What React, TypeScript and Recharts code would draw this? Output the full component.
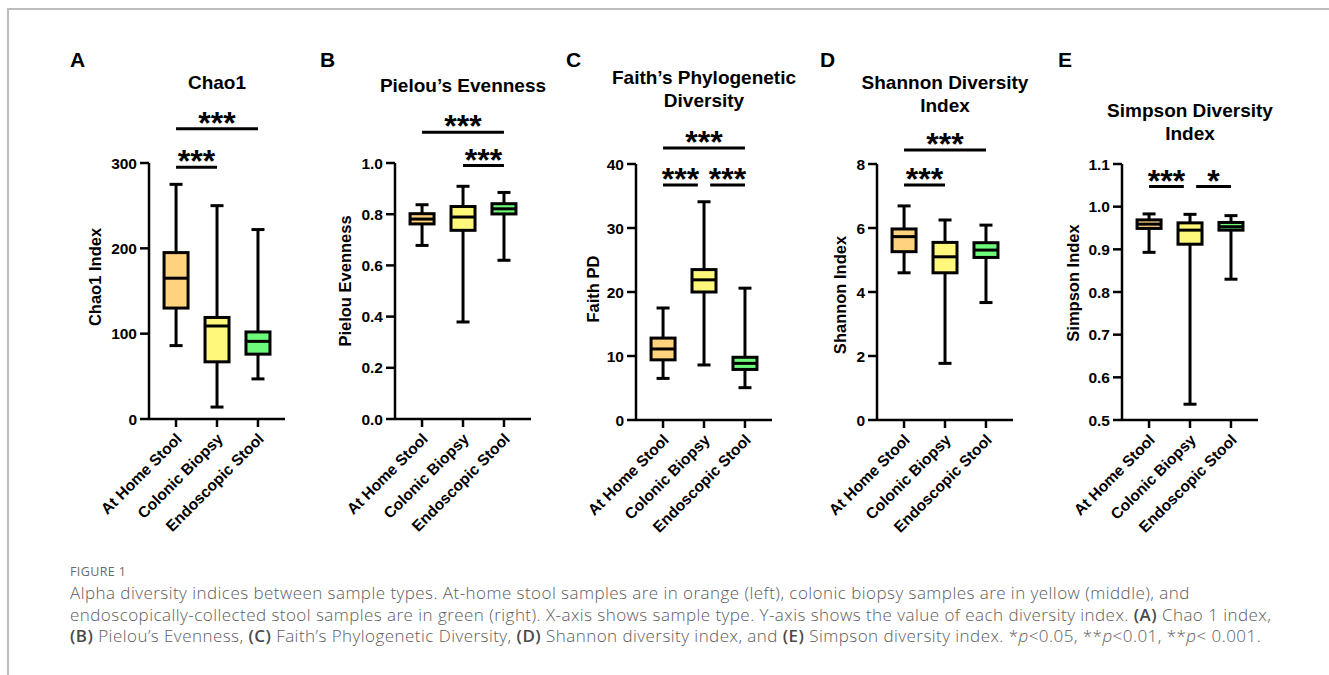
import React from 'react'
import { ComposedChart, Bar, XAxis, YAxis, ReferenceLine } from 'recharts'

const FONT = '"Liberation Sans", Arial, Helvetica, sans-serif'

const categories = ['At Home Stool', 'Colonic Biopsy', 'Endoscopic Stool']
const groupColors = ['#FFD27D', '#FFF87A', '#6EFB7C']

// box stats: min, q1, median, q3, max
const chao1 = [
  { min: 86, q1: 130, median: 165, q3: 195, max: 275 },
  { min: 14, q1: 67, median: 109, q3: 119, max: 250 },
  { min: 47, q1: 76, median: 91, q3: 102, max: 222 },
]
const pielou = [
  { min: 0.678, q1: 0.762, median: 0.781, q3: 0.802, max: 0.837 },
  { min: 0.379, q1: 0.737, median: 0.789, q3: 0.83, max: 0.909 },
  { min: 0.62, q1: 0.801, median: 0.821, q3: 0.841, max: 0.885 },
]
const faith = [
  { min: 6.5, q1: 9.4, median: 11.1, q3: 12.8, max: 17.5 },
  { min: 8.6, q1: 20.0, median: 21.9, q3: 23.5, max: 34.1 },
  { min: 5.05, q1: 7.9, median: 8.85, q3: 9.8, max: 20.6 },
]
const shannon = [
  { min: 4.6, q1: 5.26, median: 5.73, q3: 5.97, max: 6.69 },
  { min: 1.77, q1: 4.6, median: 5.1, q3: 5.55, max: 6.25 },
  { min: 3.67, q1: 5.08, median: 5.31, q3: 5.54, max: 6.09 },
]
const simpson = [
  { min: 0.893, q1: 0.949, median: 0.959, q3: 0.969, max: 0.983 },
  { min: 0.537, q1: 0.912, median: 0.945, q3: 0.962, max: 0.982 },
  { min: 0.83, q1: 0.945, median: 0.953, q3: 0.963, max: 0.979 },
]

const chao1Ticks = [0, 100, 200, 300]
const pielouTicks = [0, 0.2, 0.4, 0.6, 0.8, 1.0]
const faithTicks = [0, 10, 20, 30, 40]
const shannonTicks = [0, 2, 4, 6, 8]
const simpsonTicks = [0.5, 0.6, 0.7, 0.8, 0.9, 1.0, 1.1]

// significance brackets: groups a..b (1-based), height in data units
const chao1Sig = [
  { a: 1, b: 3, y: 340, label: '***' },
  { a: 1, b: 2, y: 295, label: '***' },
]
const pielouSig = [
  { a: 1, b: 3, y: 1.12, label: '***' },
  { a: 2, b: 3, y: 0.99, label: '***' },
]
const faithSig = [
  { a: 1, b: 3, y: 42.5, label: '***' },
  { a: 1, b: 2, y: 36.7, label: '***' },
  { a: 2, b: 3, y: 36.7, label: '***' },
]
const shannonSig = [
  { a: 1, b: 3, y: 8.44, label: '***' },
  { a: 1, b: 2, y: 7.34, label: '***' },
]
const simpsonSig = [
  { a: 1, b: 2, y: 1.047, label: '***' },
  { a: 2, b: 3, y: 1.047, label: '*' },
]

const panels = [
  { letter: 'A', title: ['Chao1'], yLabel: 'Chao1 Index', stats: chao1, ticks: chao1Ticks, sig: chao1Sig, dec: 0, axisX: 149, plotTop: 163, letterX: 70, titleTop: 71, labelDist: 54 },
  { letter: 'B', title: ['Pielou\u2019s Evenness'], yLabel: 'Pielou Evenness', stats: pielou, ticks: pielouTicks, sig: pielouSig, dec: 1, axisX: 395, plotTop: 163, letterX: 320, titleTop: 74, labelDist: 50 },
  { letter: 'C', title: ['Faith\u2019s Phylogenetic', 'Diversity'], yLabel: 'Faith PD', stats: faith, ticks: faithTicks, sig: faithSig, dec: 0, axisX: 636, plotTop: 164, letterX: 566, titleTop: 66, labelDist: 43 },
  { letter: 'D', title: ['Shannon Diversity', 'Index'], yLabel: 'Shannon Index', stats: shannon, ticks: shannonTicks, sig: shannonSig, dec: 0, axisX: 877, plotTop: 164, letterX: 820, titleTop: 71, labelDist: 37 },
  { letter: 'E', title: ['Simpson Diversity', 'Index'], yLabel: 'Simpson Index', stats: simpson, ticks: simpsonTicks, sig: simpsonSig, dec: 1, axisX: 1122, plotTop: 164, letterX: 1058, titleTop: 99, labelDist: 49 },
]

const Y_W = 80
const PLOT_W = 136
const PLOT_H = 256
const TOP = 110
const X_H = 110
const RIGHT = 14
const CHART_W = Y_W + PLOT_W + RIGHT
const CHART_H = TOP + PLOT_H + X_H + 5

const BoxShape = (props: any) => {
  const { x, y, width, height, payload } = props
  const { min, q1, median, q3, max, color } = payload
  const py = (v: number) => y + ((max - v) / (max - min)) * height
  const cx = x + width / 2
  const bw = 24
  const cap = 13
  const s = { stroke: '#000', strokeWidth: 3 }
  return (
    <g>
      <line x1={cx} x2={cx} y1={py(max)} y2={py(min)} {...s} />
      <line x1={cx - cap / 2} x2={cx + cap / 2} y1={py(max)} y2={py(max)} {...s} />
      <line x1={cx - cap / 2} x2={cx + cap / 2} y1={py(min)} y2={py(min)} {...s} />
      <rect x={cx - bw / 2} y={py(q3)} width={bw} height={py(q1) - py(q3)} fill={color} {...s} />
      <line x1={cx - bw / 2} x2={cx + bw / 2} y1={py(median)} y2={py(median)} {...s} />
    </g>
  )
}

const XTick = (props: any) => {
  const { payload } = props
  const x = props.x + 3
  const y = props.y + 5
  const label = categories[Math.round(payload.value) - 1]
  return (
    <text x={x} y={y} transform={`rotate(-45 ${x} ${y})`} textAnchor="end" dy="0.35em"
      fontSize={15.5} fontWeight={700} fill="#000" fontFamily={FONT}>
      {label}
    </text>
  )
}

function Panel({ p }: { p: (typeof panels)[number] }) {
  const data = p.stats.map((s, i) => ({ x: i + 1, whisker: [s.min, s.max], ...s, color: groupColors[i] }))
  const lo = p.ticks[0]
  const hi = p.ticks[p.ticks.length - 1]
  const labelX = Y_W - p.labelDist
  const labelY = TOP + PLOT_H / 2
  const shared = (g: number, y: number, self: any) =>
    p.sig.some((o) => o !== self && o.y === y && (o.a === g || o.b === g))
  return (
    <>
      <div style={{ position: 'absolute', left: p.letterX, top: 48, fontFamily: FONT, fontWeight: 700, fontSize: 21, lineHeight: '23px' }}>
        {p.letter}
      </div>
      <div style={{ position: 'absolute', left: p.axisX + 68 - 150, width: 300, top: p.titleTop, textAlign: 'center', fontFamily: FONT, fontWeight: 700, fontSize: 19, lineHeight: '23px' }}>
        {p.title.map((t) => <div key={t}>{t}</div>)}
      </div>
      <div style={{ position: 'absolute', left: p.axisX - Y_W, top: p.plotTop - TOP }}>
        <ComposedChart width={CHART_W} height={CHART_H} data={data} margin={{ top: TOP, right: RIGHT, bottom: 5, left: 0 }}>
          <XAxis type="number" dataKey="x" domain={[0.34, 3.66]} ticks={[1, 2, 3]} height={X_H}
            tick={<XTick />} tickSize={8} tickMargin={4}
            axisLine={{ stroke: '#000', strokeWidth: 2.5 }} tickLine={{ stroke: '#000', strokeWidth: 2.5 }} />
          <YAxis type="number" domain={[lo, hi]} ticks={p.ticks} width={Y_W} interval={0}
            tickFormatter={(v: number) => v.toFixed(p.dec)} tickSize={9} tickMargin={3}
            tick={{ fill: '#000', fontSize: 15.5, fontWeight: 700, fontFamily: FONT }}
            axisLine={{ stroke: '#000', strokeWidth: 2.5 }} tickLine={{ stroke: '#000', strokeWidth: 2.5 }}
            label={
              <text x={labelX} y={labelY} transform={`rotate(-90 ${labelX} ${labelY})`} textAnchor="middle"
                dominantBaseline="central" fontSize={16.5} fontWeight={700} fill="#000" fontFamily={FONT}>
                {p.yLabel}
              </text>
            } />
          <Bar dataKey="whisker" barSize={27} isAnimationActive={false} shape={(bp: any) => <BoxShape {...bp} />} />
          {p.sig.map((s, i) => (
            <ReferenceLine key={i} ifOverflow="visible" stroke="#000" strokeWidth={3}
              segment={[
                { x: s.a + (shared(s.a, s.y, s) ? 0.15 : 0), y: s.y },
                { x: s.b - (shared(s.b, s.y, s) ? 0.15 : 0), y: s.y },
              ]}
              label={{ value: s.label, position: 'top', offset: -5, fill: '#000', fontSize: 32, fontWeight: 700, fontFamily: FONT }} />
          ))}
        </ComposedChart>
      </div>
    </>
  )
}

const capStyle: React.CSSProperties = { whiteSpace: 'nowrap' }
const bold: React.CSSProperties = { fontWeight: 600, color: '#4a4a4a' }

export default function App() {
  return (
    <div style={{ position: 'absolute', left: 0, top: 0, width: 1329, height: 675, background: '#fff', overflow: 'hidden' }}>
      <div style={{ position: 'absolute', left: 7, top: 8, width: 1322, height: 665, borderTop: '2px solid #bdbdbd', borderLeft: '2px solid #bdbdbd' }} />
      {panels.map((p) => <Panel key={p.letter} p={p} />)}
      <div style={{ position: 'absolute', left: 70, top: 564, fontFamily: '"Open Sans", Lato, sans-serif', color: '#5c5c5c' }}>
        <div style={{ fontSize: 12.5, color: '#6a6a6a', letterSpacing: 0.4, lineHeight: '16px' }}>FIGURE 1</div>
        <div style={{ fontSize: 17, lineHeight: '21.5px', marginTop: 2, letterSpacing: 0.45, fontWeight: 300 }}>
          <div style={capStyle}>Alpha diversity indices between sample types. At-home stool samples are in orange (left), colonic biopsy samples are in yellow (middle), and</div>
          <div style={capStyle}>endoscopically-collected stool samples are in green (right). X-axis shows sample type. Y-axis shows the value of each diversity index. <b style={bold}>(A)</b> Chao 1 index,</div>
          <div style={capStyle}><b style={bold}>(B)</b> Pielou’s Evenness, <b style={bold}>(C)</b> Faith’s Phylogenetic Diversity, <b style={bold}>(D)</b> Shannon diversity index, and <b style={bold}>(E)</b> Simpson diversity index. *<i>p</i>&lt;0.05, **<i>p</i>&lt;0.01, **<i>p</i>&lt; 0.001.</div>
        </div>
      </div>
    </div>
  )
}
